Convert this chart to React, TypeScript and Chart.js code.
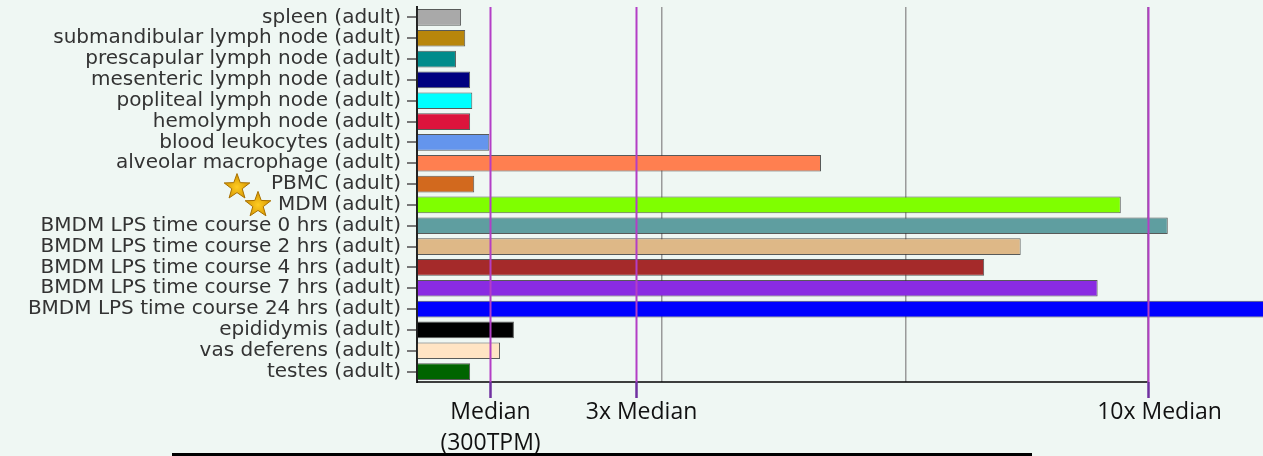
import React, { useEffect, useRef } from "react";
import { Chart, registerables } from "chart.js";

Chart.register(...registerables);

const categories: string[] = [
  "spleen (adult)",
  "submandibular lymph node (adult)",
  "prescapular lymph node (adult)",
  "mesenteric lymph node (adult)",
  "popliteal lymph node (adult)",
  "hemolymph node (adult)",
  "blood leukocytes (adult)",
  "alveolar macrophage (adult)",
  "PBMC (adult)",
  "MDM (adult)",
  "BMDM LPS time course 0 hrs (adult)",
  "BMDM LPS time course 2 hrs (adult)",
  "BMDM LPS time course 4 hrs (adult)",
  "BMDM LPS time course 7 hrs (adult)",
  "BMDM LPS time course 24 hrs (adult)",
  "epididymis (adult)",
  "vas deferens (adult)",
  "testes (adult)",
];

const tpmValues: number[] = [
  181, 198, 160, 218, 227, 218, 297, 1659, 235, 2890, 3083, 2479, 2329, 2795,
  3600, 398, 341, 218,
];

const barColors: string[] = [
  "#a9a9a9", "#b8860b", "#008b8b", "#000080", "#00ffff", "#dc143c",
  "#6495ed", "#ff7f50", "#d2691e", "#7fff00", "#5f9ea0", "#deb887",
  "#a52a2a", "#8a2be2", "#0000ff", "#000000", "#ffe4c4", "#006400",
];

const gridTicks: number[] = [0, 1006, 2008, 3000];
const medianTPM = 300;
const medianMultiples: number[] = [1, 3, 10];
const medianLabels: string[][] = [["Median", "(300TPM)"], ["3x Median"], ["10x Median"]];
const starredCategories: string[] = ["PBMC (adult)", "MDM (adult)"];

const xMax = 3474;

function drawStar(ctx: CanvasRenderingContext2D, cx: number, cy: number, R: number, r: number) {
  ctx.beginPath();
  for (let i = 0; i < 10; i++) {
    const rad = i % 2 === 0 ? R : r;
    const a = -Math.PI / 2 + (i * Math.PI) / 5;
    const x = cx + rad * Math.cos(a);
    const y = cy + rad * Math.sin(a);
    if (i === 0) ctx.moveTo(x, y);
    else ctx.lineTo(x, y);
  }
  ctx.closePath();
  const g = ctx.createRadialGradient(cx, cy, 0, cx, cy, R);
  g.addColorStop(0, "#ffcc22");
  g.addColorStop(1, "#d49500");
  ctx.fillStyle = g;
  ctx.fill();
  ctx.strokeStyle = "#a87000";
  ctx.lineWidth = 1;
  ctx.stroke();
}

const overlayPlugin = {
  id: "overlay",
  beforeDraw(chart: any) {
    const ctx = chart.ctx;
    ctx.save();
    ctx.fillStyle = "#eff7f3";
    ctx.fillRect(0, 0, chart.width, chart.height);
    ctx.restore();
  },
  afterDatasetsDraw(chart: any) {
    const ctx: CanvasRenderingContext2D = chart.ctx;
    const xs = chart.scales.x;
    const ys = chart.scales.y;
    const area = chart.chartArea;
    ctx.save();
    // x axis line up to 10x median
    const xEnd = xs.getPixelForValue(medianTPM * medianMultiples[medianMultiples.length - 1]);
    ctx.strokeStyle = "#000";
    ctx.lineWidth = 1.5;
    ctx.beginPath();
    ctx.moveTo(area.left, area.bottom);
    ctx.lineTo(xEnd, area.bottom);
    ctx.stroke();
    // median lines
    const labelDx = [0, 5, 11];
    medianMultiples.forEach((m, i) => {
      const x = Math.round(xs.getPixelForValue(medianTPM * m)) + 0.5;
      ctx.strokeStyle = "#b33ec6";
      ctx.lineWidth = 2;
      ctx.beginPath();
      ctx.moveTo(x, area.top);
      ctx.lineTo(x, area.bottom);
      ctx.stroke();
      ctx.strokeStyle = "#7030a0";
      ctx.lineWidth = 2.5;
      ctx.beginPath();
      ctx.moveTo(x, area.bottom);
      ctx.lineTo(x, area.bottom + 16);
      ctx.stroke();
      ctx.fillStyle = "#111";
      ctx.font = "23px 'Open Sans'";
      ctx.textAlign = "center";
      ctx.textBaseline = "alphabetic";
      medianLabels[i].forEach((t, j) => {
        ctx.fillText(t, x + labelDx[i], area.bottom + 37 + j * 31);
      });
    });
    // stars
    const starDx = [237, 258];
    const starDy = [3, 0];
    starredCategories.forEach((c, i) => {
      const idx = categories.indexOf(c);
      const y = ys.getPixelForValue(idx);
      drawStar(ctx, starDx[i], y + starDy[i], 13.5, 5.5);
    });
    // bottom decorative line
    ctx.fillStyle = "#000";
    ctx.fillRect(172, 453, 860, 3);
    ctx.restore();
  },
};

export default function App() {
  const canvasRef = useRef<HTMLCanvasElement | null>(null);
  useEffect(() => {
    const canvas = canvasRef.current;
    if (!canvas) return;
    const chart = new Chart(canvas, {
      type: "bar",
      data: {
        labels: categories,
        datasets: [
          {
            data: tpmValues,
            backgroundColor: barColors,
            borderColor: "rgba(50,50,50,0.8)",
            borderWidth: 1,
            barPercentage: 0.8,
            categoryPercentage: 1,
          },
        ],
      },
      options: {
        indexAxis: "y",
        responsive: false,
        animation: false,
        layout: { padding: { top: 7, left: 0, right: 0, bottom: 0 } },
        plugins: { legend: { display: false }, tooltip: { enabled: false } },
        scales: {
          x: {
            min: 0,
            max: xMax,
            ticks: { display: false },
            afterBuildTicks: (s: any) => {
              s.ticks = gridTicks.map((v) => ({ value: v }));
            },
            grid: { color: "#9a9a9a", lineWidth: 1.5, drawTicks: false },
            border: { display: false },
            afterFit: (s: any) => {
              s.height = 74;
              s.paddingLeft = 0;
              s.paddingRight = 0;
            },
          },
          y: {
            ticks: {
              autoSkip: false,
              font: { family: "'DejaVu Sans'", size: 20 },
              color: "#333",
              padding: 6,
            },
            grid: { offset: false, drawOnChartArea: false, tickLength: 10, color: "#777", lineWidth: 2 },
            border: { color: "#222", width: 2 },
            afterFit: (s: any) => {
              s.width = 417;
              s.paddingTop = 0;
              s.paddingBottom = 0;
            },
          },
        },
      },
      plugins: [overlayPlugin],
    } as any);
    return () => chart.destroy();
  }, []);
  return (
    <div
      style={{
        position: "fixed",
        left: 0,
        top: 0,
        width: 1263,
        height: 456,
        background: "#eff7f3",
      }}
    >
      <canvas ref={canvasRef} width={1263} height={456} style={{ display: "block" }} />
    </div>
  );
}
